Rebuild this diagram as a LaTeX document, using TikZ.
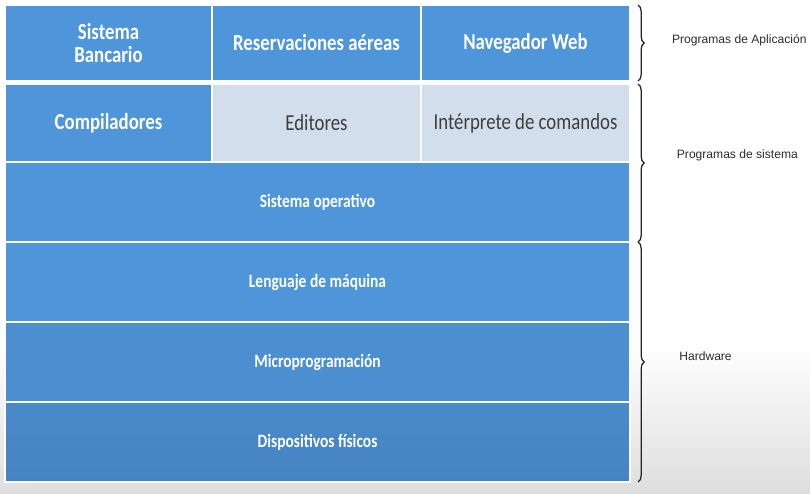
\documentclass[tikz,border=0pt]{standalone}
\usepackage{fontspec}
\setmainfont{Carlito}[FakeStretch=0.82]
\newfontfamily\lblfont{Liberation Sans}
\usepackage{tikz}
\usetikzlibrary{positioning,decorations.pathreplacing}
\definecolor{cellblue}{RGB}{79,149,217}
\definecolor{cellbluedark}{RGB}{70,131,195}
\definecolor{celllight}{RGB}{211,222,237}
\definecolor{textgray}{RGB}{62,62,62}
\definecolor{lblgray}{RGB}{45,45,45}

\begin{document}
\begin{tikzpicture}[every node/.style={font=\fontsize{16.3}{17}\selectfont}]
  \tikzstyle{cell}=[draw=white, line width=0.9pt, minimum height=2cm, outer sep=0pt, inner sep=2pt, align=center]
  \tikzstyle{hi}=[cell, fill=cellblue, text=white, font=\fontsize{16.3}{17}\selectfont\bfseries]
  \tikzstyle{lo}=[cell, fill=celllight, text=textgray]
  \tikzstyle{layer}=[hi, minimum width=15.625cm, font=\fontsize{13.4}{15}\selectfont\bfseries]
  \tikzstyle{brc}=[decorate, decoration={brace, amplitude=4.5pt}, line width=0.9pt, black!85]
  \tikzstyle{lbl}=[font=\lblfont\fontsize{8.6}{10}\selectfont, text=lblgray, anchor=west]
  % fondo
  \fill[white] (0,0) rectangle (20.25,-12.35);
  \shade[top color=white, bottom color=black!13] (0,-8.6) rectangle (20.25,-12.35);
  \useasboundingbox (0,0) rectangle (20.25,-12.35);
  % programas de aplicacion
  \node[hi, minimum width=5.175cm, minimum height=1.9cm, anchor=north west] (banco) at (0.125,-0.125) {Sistema\\Bancario};
  \node[hi, minimum width=5.225cm, minimum height=1.9cm, right=0pt of banco] (reserv) {Reservaciones aéreas};
  \node[hi, minimum width=5.225cm, minimum height=1.9cm, right=0pt of reserv] (nav) {Navegador Web};
  % programas de sistema
  \node[hi, minimum width=5.175cm, minimum height=1.95cm, below=0.075cm of banco] (comp) {Compiladores};
  \node[lo, minimum width=5.225cm, minimum height=1.95cm, right=0pt of comp] (edit) {Editores};
  \node[lo, minimum width=5.225cm, minimum height=1.95cm, right=0pt of edit] (inter) {Intérprete de comandos};
  \node[layer, anchor=north west] (so) at (comp.south west) {Sistema operativo};
  % hardware
  \node[layer, below=0pt of so] (lm) {Lenguaje de máquina};
  \node[layer, below=0pt of lm, fill=cellblue!96!black] (micro) {Microprogramación};
  \node[layer, below=0pt of micro, top color=cellblue!93!black, bottom color=cellbluedark] (disp) {Dispositivos físicos};
  % llaves
  \draw[brc] ([xshift=0.2cm]nav.north east) -- ([xshift=0.2cm]nav.south east)
    node[lbl, midway, xshift=0.72cm, yshift=0.07cm] (lblapp) {Programas de Aplicación};
  \draw[brc] ([xshift=0.2cm]inter.north east) -- ([xshift=0.2cm]so.south east)
    node[lbl, midway, xshift=0.84cm, yshift=0.19cm] (lblsis) {Programas de sistema};
  \draw[brc] ([xshift=0.2cm]lm.north east) -- ([xshift=0.2cm]disp.south east)
    node[lbl, midway, xshift=0.9cm, yshift=0.15cm] (lblhw) {Hardware};
\end{tikzpicture}
\end{document}
